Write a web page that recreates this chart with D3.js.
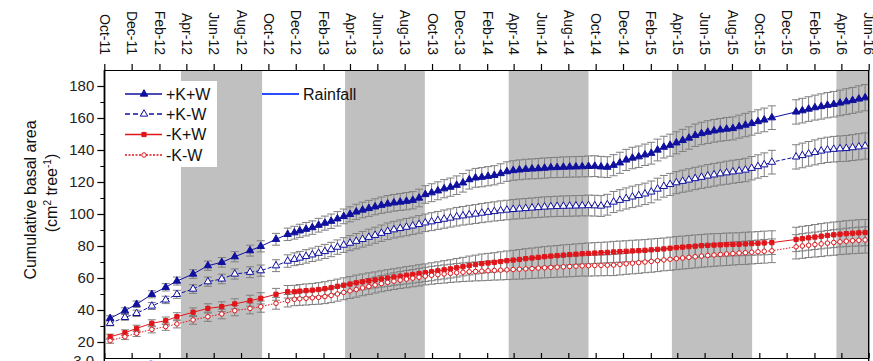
<!DOCTYPE html>
<html><head><meta charset="utf-8">
<script src="https://cdn.jsdelivr.net/npm/d3@7"></script>
<style>html,body{margin:0;padding:0;background:#fff;} svg{display:block;font-family:"Liberation Sans",Arial,sans-serif;}</style>
</head><body><svg id="c" width="873" height="361"></svg>
<script>
// ---------------- DATA ----------------
const earlyDates = ["2011-10-14","2011-11-16","2011-12-12","2012-01-15","2012-02-15","2012-03-11","2012-04-16","2012-05-19","2012-06-19","2012-07-18","2012-08-21","2012-09-14","2012-10-18","2012-11-13","2012-11-28"];
const denseDates = ["2012-12-10","2012-12-24","2013-01-07","2013-01-21","2013-02-04","2013-02-18","2013-03-04","2013-03-18","2013-04-01","2013-04-15","2013-04-29","2013-05-13","2013-05-27","2013-06-10","2013-06-24","2013-07-08","2013-07-22","2013-08-05","2013-08-19","2013-09-02","2013-09-16","2013-09-30","2013-10-14","2013-10-28","2013-11-11","2013-11-25","2013-12-09","2013-12-23","2014-01-06","2014-01-20","2014-02-03","2014-02-17","2014-03-03","2014-03-17","2014-03-31","2014-04-14","2014-04-28","2014-05-12","2014-05-26","2014-06-09","2014-06-23","2014-07-07","2014-07-21","2014-08-04","2014-08-18","2014-09-01","2014-09-15","2014-09-29","2014-10-13","2014-10-27","2014-11-10","2014-11-24","2014-12-08","2014-12-22","2015-01-05","2015-01-19","2015-02-02","2015-02-16","2015-03-02","2015-03-16","2015-03-30","2015-04-13","2015-04-27","2015-05-11","2015-05-25","2015-06-08","2015-06-22","2015-07-06","2015-07-20","2015-08-03","2015-08-17","2015-08-31","2015-09-14","2015-09-28","2015-10-12","2015-10-29"];
const lateDates = ["2015-12-22","2016-01-05","2016-01-19","2016-02-02","2016-02-16","2016-03-01","2016-03-15","2016-03-29","2016-04-12","2016-04-26","2016-05-10","2016-05-24"];

const kPlusWPlus = [34.8,39.6,43.6,49.8,54.2,58.1,62.5,67.7,69.8,73.3,77.1,79.8,84.2,87.3,88.3,
 89.5,90.5,91.5,93.0,94.3,95.5,97.0,98.5,99.8,101.3,
 102.5,103.5,104.5,105.5,106.3,107.0,107.5,108.0,108.6,110.0,
 112.2,113.3,114.5,115.8,116.8,118.0,119.5,121.5,122.6,123.0,
 123.6,124.2,125.3,126.5,127.2,127.6,128.0,128.2,128.4,128.7,
 129.0,129.1,129.3,129.4,129.5,129.6,129.8,129.9,129.5,129.3,
 130.5,132.0,133.8,135.0,135.8,137.0,138.0,140.0,141.8,143.0,
 144.5,146.0,147.5,149.2,150.3,151.2,152.0,152.6,153.1,153.5,
 154.6,155.6,156.6,157.8,158.8,160.2,
 163.8,164.6,165.6,166.5,167.2,168.0,168.6,169.4,170.2,171.0,171.9,172.7];
const kPlusWMinus = [31.7,35.4,37.9,42.5,46.3,49.8,53.1,57.7,59.4,62.5,63.6,64.6,67.7,70.6,71.7,
 72.5,73.5,74.5,75.5,76.6,77.8,79.3,80.6,81.8,83.0,
 84.2,85.5,86.7,88.0,89.2,90.2,91.0,91.8,92.6,93.5,
 94.5,95.2,96.0,96.8,97.5,98.3,98.9,99.5,100.0,100.6,
 101.1,101.6,102.1,102.5,102.9,103.2,103.5,103.8,104.1,104.4,
 104.6,104.8,104.9,105.0,105.1,105.2,105.3,105.2,105.0,105.8,
 107.5,108.6,109.7,110.7,111.6,112.6,113.8,115.6,117.3,118.5,
 119.6,120.5,121.3,122.2,123.0,123.8,124.5,125.2,125.8,126.4,
 126.9,127.5,128.6,129.7,130.8,132.4,
 135.7,136.6,137.6,138.5,139.4,140.1,140.5,140.8,141.0,141.5,142.0,142.5];
const kMinusWPlus = [23.3,25.8,28.5,31.7,33.3,35.8,38.6,41.0,42.1,43.8,45.8,47.3,49.8,51.4,51.4,
 51.8,52.1,52.4,52.8,53.3,54.0,54.8,55.5,56.2,57.0,
 57.6,58.2,58.8,59.4,60.0,60.6,61.1,61.7,62.2,62.8,
 63.3,63.9,64.5,65.1,65.7,66.4,67.1,67.8,68.4,69.0,
 69.4,69.8,70.3,70.8,71.2,71.6,72.1,72.5,72.9,73.3,
 73.7,74.0,74.3,74.6,74.9,75.2,75.4,75.6,75.8,76.0,
 76.3,76.5,76.7,76.9,77.1,77.3,77.6,77.9,78.2,78.6,
 79.0,79.3,79.6,79.9,80.2,80.4,80.6,80.7,80.9,81.0,
 81.1,81.3,81.5,81.7,81.9,82.1,
 84.1,84.6,85.1,85.6,86.1,86.6,87.0,87.4,87.7,88.0,88.2,88.4];
const kMinusWMinus = [20.8,23.3,25.4,27.9,29.6,31.3,33.8,35.8,37.5,39.6,41.0,42.1,44.2,45.8,46.7,
 47.0,47.3,47.6,47.9,48.4,49.1,50.0,51.0,51.9,52.8,
 53.8,54.7,55.6,56.5,57.3,58.0,58.7,59.3,59.9,60.5,
 61.2,61.7,62.1,62.5,62.9,63.3,63.6,63.9,64.1,64.3,
 64.5,64.7,64.9,65.1,65.3,65.5,65.7,65.9,66.2,66.4,
 66.6,66.8,67.0,67.2,67.4,67.6,67.7,67.8,67.9,68.0,
 68.1,68.5,68.9,69.3,69.6,70.0,70.4,70.8,71.3,71.7,
 72.1,72.5,72.9,73.3,73.7,74.1,74.4,74.7,75.0,75.3,
 75.6,75.8,76.1,76.4,76.7,77.0,
 79.5,80.0,80.5,80.9,81.3,81.8,82.2,82.6,83.0,83.3,83.6,83.8];
const errorBars = [1.6,1.8,2.0,2.2,2.3,2.5,2.7,2.9,3.0,3.2,3.4,3.5,3.7,3.9,4.0,
 4.1,4.2,4.2,4.3,4.4,4.5,4.5,4.6,4.7,4.8,
 4.9,5.0,5.0,5.1,5.2,5.2,5.3,5.4,5.4,5.5,
 5.5,5.6,5.6,5.7,5.7,5.8,5.8,5.9,5.9,6.0,
 6.0,6.0,6.1,6.1,6.1,6.2,6.2,6.2,6.3,6.3,
 6.3,6.3,6.4,6.4,6.4,6.4,6.5,6.5,6.5,6.5,
 6.6,6.6,6.6,6.7,6.7,6.7,6.8,6.8,6.8,6.9,
 6.9,6.9,7.0,7.0,7.0,7.1,7.1,7.1,7.2,7.2,
 7.2,7.3,7.3,7.3,7.4,7.4,
 7.6,7.7,7.7,7.8,7.9,7.9,8.0,8.0,8.1,8.1,8.2,8.2];

const dryBands = [["2012-03-20","2012-09-17"],["2013-03-21","2013-09-15"],["2014-03-21","2014-09-15"],["2015-03-20","2015-09-15"],["2016-03-21","2016-06-01"]];
const yTicks = [20,40,60,80,100,120,140,160,180];
const yMinorTicks = [30,50,70,90,110,130,150,170];
const rainfallDates = ["2012-01-13"];
const rainfallValues = [2.97];
const seriesNames = ["+K+W","+K-W","-K+W","-K-W"];

// ---------------- CHART ----------------
const parse = d3.utcParse("%Y-%m-%d");
const dates = earlyDates.concat(denseDates, lateDates).map(parse);
const svg = d3.select("#c");
const L = 104.3, R = 868.7, T = 70, B = 358;
const x = d3.scaleUtc().domain([parse("2011-10-01"), parse("2016-06-01")]).range([L, R]);
const y = d3.scaleLinear().domain([10, 190]).range([B, T]);
const y2 = d3.scaleLinear().domain([0, 3]).range([455, 362]);

const blue = "#10109f", red = "#e0161b", errGray = "#7f7f7f";
const series = [
  {name: seriesNames[0], vals: kPlusWPlus, color: blue, dash: null, sym: d3.symbolTriangle, size: 24, fill: blue},
  {name: seriesNames[1], vals: kPlusWMinus, color: blue, dash: "4,2", sym: d3.symbolTriangle, size: 24, fill: "#fff"},
  {name: seriesNames[2], vals: kMinusWPlus, color: red, dash: null, sym: d3.symbolSquare, size: 18, fill: red},
  {name: seriesNames[3], vals: kMinusWMinus, color: red, dash: "1.5,1.5", sym: d3.symbolCircle, size: 16, fill: "#fff"}
];

svg.append("defs").append("clipPath").attr("id", "clip")
  .append("rect").attr("x", L).attr("y", T).attr("width", R - L).attr("height", B - T);

const plot = svg.append("g").attr("clip-path", "url(#clip)");
plot.selectAll("rect.band").data(dryBands).join("rect").attr("class", "band")
  .attr("x", d => x(parse(d[0]))).attr("y", T)
  .attr("width", d => Math.min(x(parse(d[1])), R) - x(parse(d[0])))
  .attr("height", B - T).attr("fill", "#c0c0c0");

// legend box
svg.append("rect").attr("x", 106).attr("y", 81).attr("width", 111).attr("height", 86).attr("fill", "#fff");

// error bars
series.forEach(s => {
  const g = plot.append("g").attr("stroke", errGray).attr("stroke-width", 1).attr("fill", "none");
  s.vals.forEach((v, i) => {
    const cx = x(dates[i]), e = errorBars[i];
    const y0 = y(v - e), y1 = y(v + e);
    g.append("path").attr("d", `M${cx},${y0}V${y1}M${cx-4},${y0}H${cx+4}M${cx-4},${y1}H${cx+4}`);
  });
});
// lines
series.forEach(s => {
  const line = d3.line().x((v, i) => x(dates[i])).y(v => y(v));
  plot.append("path").datum(s.vals).attr("d", line).attr("fill", "none")
    .attr("stroke", s.color).attr("stroke-width", 1).attr("stroke-dasharray", s.dash);
});
// markers
series.forEach(s => {
  const sym = d3.symbol().type(s.sym).size(s.size);
  plot.append("g").selectAll("path").data(s.vals).join("path")
    .attr("transform", (v, i) => `translate(${x(dates[i])},${y(v)})`)
    .attr("d", sym).attr("fill", s.fill).attr("stroke", s.color).attr("stroke-width", 1);
});

// rainfall point of lower panel (cut off)
svg.selectAll("circle.rain").data(rainfallValues).join("circle").attr("class", "rain")
  .attr("cx", (v, i) => x(parse(rainfallDates[i]))).attr("cy", v => y2(v)).attr("r", 2.5).attr("fill", "#2233dd");

// axes
const tickDates = d3.utcMonths(parse("2011-10-01"), parse("2016-06-02"), 2);
const fmt = d3.utcFormat("%b-%y");
const topAxis = svg.append("g").attr("transform", `translate(0,${T})`)
  .call(d3.axisTop(x).tickValues(tickDates).tickSize(6).tickSizeOuter(0).tickFormat(fmt));
topAxis.selectAll("text").attr("x", 0).attr("y", 0).attr("dy", "0.35em")
  .attr("transform", "translate(0,-15) rotate(90)").attr("text-anchor", "end")
  .style("font-size", "14px").attr("fill", "#111");

const botAxis = svg.append("g").attr("transform", `translate(0,${B})`)
  .call(d3.axisTop(x).tickValues(tickDates).tickSize(5).tickSizeOuter(0).tickFormat(""));

const leftAxis = svg.append("g").attr("transform", `translate(${L},0)`)
  .call(d3.axisLeft(y).tickValues(yTicks).tickSize(7).tickSizeOuter(0));
leftAxis.selectAll("text").style("font-size", "15px").attr("fill", "#222");
svg.append("g").attr("transform", `translate(${L},0)`)
  .call(d3.axisLeft(y).tickValues(yMinorTicks).tickSize(4).tickSizeOuter(0).tickFormat(""))
  .select(".domain").remove();

[topAxis, botAxis, leftAxis].forEach(g => g.selectAll("line,path").attr("stroke", "#000").attr("stroke-width", 1.2));
svg.selectAll(".tick line").attr("stroke", "#000");
// left & right frame extend into the lower panel
svg.append("line").attr("x1", L).attr("x2", L).attr("y1", T).attr("y2", 361).attr("stroke", "#000").attr("stroke-width", 1.4);
svg.append("line").attr("x1", R).attr("x2", R).attr("y1", T).attr("y2", 361).attr("stroke", "#000").attr("stroke-width", 1.4);
svg.append("text").attr("x", 94).attr("y", 366).attr("text-anchor", "end").style("font-size", "15px").attr("fill", "#222").text("3.0");

// y title
const yt = svg.append("g").style("font-size", "16px").attr("fill", "#111");
yt.append("text").attr("transform", "translate(36,200) rotate(-90)").attr("text-anchor", "middle").text("Cumulative basal area");
const t2 = yt.append("text").attr("transform", "translate(57,193) rotate(-90)").attr("text-anchor", "middle");
t2.append("tspan").text("(cm");
t2.append("tspan").attr("dy", -6).style("font-size", "10px").text("2");
t2.append("tspan").attr("dy", 6).text(" tree");
t2.append("tspan").attr("dy", -6).style("font-size", "10px").text("-1");
t2.append("tspan").attr("dy", 6).text(")");

// legend
const legY = [94, 114, 134.5, 155];
series.forEach((s, i) => {
  const g = svg.append("g").attr("transform", `translate(0,${legY[i]})`);
  g.append("line").attr("x1", 125).attr("x2", 162).attr("y1", 0).attr("y2", 0)
    .attr("stroke", s.color).attr("stroke-width", 1.3).attr("stroke-dasharray", s.dash ? (i === 1 ? "5,3" : "2,1.5") : null);
  g.append("path").attr("transform", "translate(144,0)").attr("d", d3.symbol().type(s.sym).size(s.size)())
    .attr("fill", s.fill).attr("stroke", s.color);
  g.append("text").attr("x", 166).attr("y", 0).attr("dy", "0.36em").style("font-size", "16px").attr("fill", "#111").text(s.name);
});
svg.append("line").attr("x1", 262).attr("x2", 299).attr("y1", 94).attr("y2", 94).attr("stroke", "#2b4bff").attr("stroke-width", 2);
svg.append("text").attr("x", 303).attr("y", 94).attr("dy", "0.36em").style("font-size", "16px").attr("fill", "#111").text("Rainfall");
</script></body></html>
